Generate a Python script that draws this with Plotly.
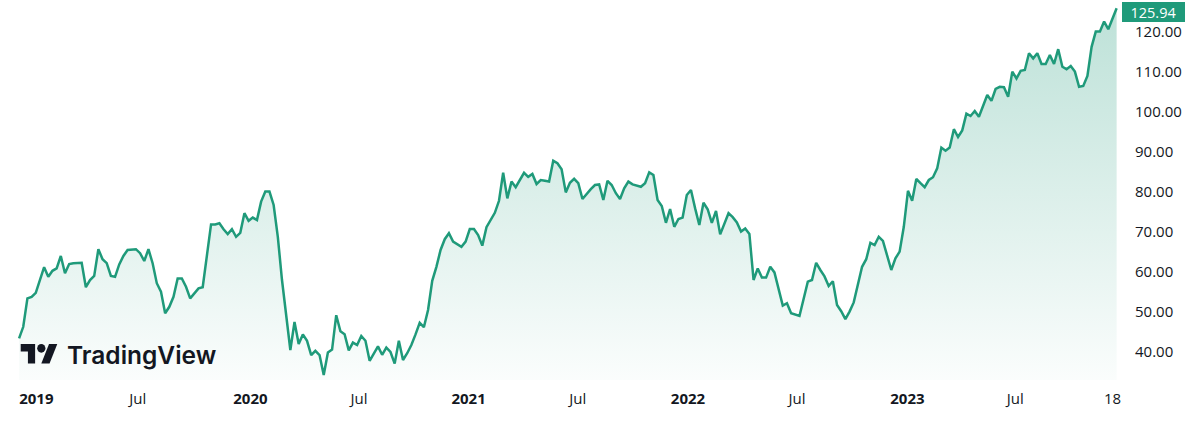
import numpy as np
import pandas as pd
import plotly.graph_objects as go

# ---------------- data (weekly closes) ----------------
start_date = "2018-12-03"
weeks = [
    0, 1, 2, 3, 4, 6, 7, 8, 9, 10, 11, 12, 13, 15, 16, 17, 18, 19, 20, 21, 22, 23, 24, 25, 26,
    28, 29, 30, 31, 32, 33, 34, 35, 36, 37, 38, 39, 40, 41, 42, 43, 44,
    46, 47, 48, 49, 50, 51, 52, 53, 54, 55, 56, 57, 58, 59, 60, 61, 62, 63, 64, 65, 66, 67, 68,
    69, 70, 71, 72, 73, 74, 75, 76, 77, 78, 79, 80, 81, 82, 83, 84, 85, 86, 87, 88, 89, 90, 91,
    92, 93, 94, 95, 96, 97, 98, 99, 100, 101, 102, 103, 104, 106, 107, 108, 109, 110, 111, 112,
    113, 114, 115, 116, 117, 118, 119, 120, 121, 122, 123, 124, 125, 126, 127, 128, 129, 130,
    131, 132, 133, 134, 135, 137, 138, 139, 140, 141, 142, 143, 144, 145, 146, 147, 149, 150,
    151, 152, 153, 154, 155, 156, 157, 158, 159, 160, 161, 162, 163, 164, 165, 166, 167, 168,
    169, 170, 171, 172, 173, 174, 175, 176, 177, 178, 179, 180, 181, 182, 183, 184, 185, 187,
    188, 189, 190, 191, 192, 193, 194, 195, 196, 197, 198, 199, 200, 201, 202, 203, 204, 205,
    206, 207, 208, 209, 210, 211, 212, 213, 214, 215, 216, 217, 218, 219, 220, 221, 222, 223,
    224, 225, 226, 227, 228, 229, 230, 232, 233, 234, 235, 236, 237, 238, 239, 240, 241, 242,
    243, 244, 245, 246, 247, 248, 249, 250, 251, 252, 253, 254, 255, 256, 257, 258, 259, 260,
    261, 262, 263,
]
prices = [
    43.4, 46.3, 53.4, 53.8, 54.8, 61.2, 58.8, 60.3, 60.9, 64.0, 59.7, 62.0, 62.2, 62.3, 56.2,
    58.0, 59.0, 65.7, 63.2, 62.2, 59.0, 58.8, 61.9, 64.0, 65.5,
    65.7, 64.7, 62.75, 65.7, 62.2, 57.2, 55.1, 49.7, 51.3, 53.8, 58.4, 58.4, 56.3, 53.4, 54.7,
    55.9, 56.2,
    71.9, 71.9, 72.2, 70.7, 69.5, 70.7, 68.8, 69.8, 74.7, 72.8, 73.6, 73.0, 77.6, 80.1, 80.1,
    76.75, 68.8, 58.0, 48.8, 40.5, 47.5, 42.0, 44.4,
    42.8, 39.2, 40.3, 39.25, 34.25, 39.9, 40.6, 49.2, 45.2, 44.45, 40.4, 42.35, 41.75, 44.0,
    42.8, 37.8, 39.7, 41.4, 39.3, 41.1, 40.0, 37.1, 42.8,
    38.0, 39.7, 41.75, 44.4, 47.3, 46.2, 50.5, 57.8, 61.3, 65.5, 68.2, 69.7, 67.6, 66.3, 67.6,
    70.75, 70.75, 69.25, 66.6, 71.2,
    73.0, 74.8, 77.8, 84.8, 78.4, 82.6, 81.2, 83.0, 84.8, 83.8, 84.5, 82.0, 83.0, 82.8, 82.6,
    87.8, 87.2, 85.7,
    79.9, 82.3, 83.3, 82.2, 78.25, 80.7, 81.75, 81.9, 78.0, 82.8, 81.75, 79.7, 78.25, 80.9,
    82.6, 81.9, 81.3, 82.2,
    84.9, 84.25, 78.0, 76.5, 72.3, 75.75, 71.3, 73.25, 73.6, 79.25, 80.5, 75.9, 71.75, 77.3,
    75.7, 72.3, 75.25, 69.4,
    72.2, 74.7, 73.7, 72.4, 70.1, 70.9, 69.5, 58.0, 60.9, 58.6, 58.6, 61.3, 59.9, 55.75, 51.6,
    52.2, 49.7, 49.0,
    53.2, 57.6, 58.0, 62.3, 60.5, 58.9, 56.5, 57.7, 51.75, 50.2, 48.2, 50.1, 52.4, 57.2, 61.3,
    63.2, 67.3, 66.75,
    68.8, 67.8, 63.8, 60.5, 63.4, 65.1, 71.3, 80.3, 77.8, 83.25, 82.2, 81.2, 83.0, 83.7, 85.9,
    91.1, 90.3, 91.1,
    95.7, 93.75, 95.4, 99.6, 99.0, 100.25, 98.8, 104.25, 102.8, 105.75, 106.3, 106.2, 103.8,
    110.1, 108.4, 110.3, 110.5, 114.7,
    113.4, 114.7, 112.0, 112.0, 114.25, 112.0, 115.7, 111.3, 110.7, 111.5, 110.1, 106.3, 106.5,
    109.0, 116.3, 120.1, 120.1, 122.6,
    120.7, 123.4, 125.94,
]
last_price_label = "125.94"

x_tick_dates = ["2019-01-01", "2019-06-20", "2019-12-26", "2020-06-25", "2020-12-26",
                "2021-06-27", "2021-12-29", "2022-06-30", "2023-01-01", "2023-07-01",
                "2023-12-11"]
x_tick_text = ["<b>2019</b>", "Jul", "<b>2020</b>", "Jul", "<b>2021</b>", "Jul",
               "<b>2022</b>", "Jul", "<b>2023</b>", "Jul", "18"]
y_tick_vals = [40, 50, 60, 70, 80, 90, 100, 110, 120]
y_tick_text = [f"{v:.2f}" for v in y_tick_vals]

# ---------------- styling ----------------
GREEN = "#1f9a7a"
TEXT = "#131722"
FONT = "Open Sans"
W, H = 1200, 436
ML, MR, MT, MB = 0, 78, 0, 56
PW, PH = W - ML - MR, H - MT - MB

dates = pd.Timestamp(start_date) + pd.to_timedelta(np.array(weeks) * 7, unit="D")

fig = go.Figure()
fig.add_trace(go.Scatter(
    x=dates, y=prices, mode="lines",
    line=dict(color=GREEN, width=2.5),
    fill="tozeroy",
    fillgradient=dict(type="vertical",
                      colorscale=[[0, "rgba(31,154,122,0.02)"], [1, "rgba(31,154,122,0.30)"]],
                      start=33, stop=128),
    hoverinfo="skip",
))

def fx(px):
    return px / PW

def fy(py):
    return 1 - py / PH

# TradingView logo mark (from its 36x28 svg), placed at bottom-left
sx, sy, ox, oy = 1.03, 1.08, 20.7, 344.0
def pt(X, Y):
    return f"{fx(ox + X * sx):.5f},{fy(oy + (Y - 4) * sy):.5f}"
def poly(points):
    return "M" + " L".join(pt(X, Y) for X, Y in points) + " Z"

shapes = [
    dict(type="path", xref="paper", yref="paper",
         path=poly([(0, 4), (14, 4), (14, 22), (7, 22), (7, 11), (0, 11)]),
         fillcolor=TEXT, line=dict(width=0)),
    dict(type="path", xref="paper", yref="paper",
         path=poly([(20, 22), (27.5, 4), (35.5, 4), (28, 22)]),
         fillcolor=TEXT, line=dict(width=0)),
    dict(type="circle", xref="paper", yref="paper",
         x0=fx(ox + 16 * sx), x1=fx(ox + 24 * sx),
         y0=fy(oy + 8 * sy), y1=fy(oy + 0 * sy),
         fillcolor=TEXT, line=dict(width=0)),
]

annotations = [
    dict(text="TradingView", xref="paper", yref="paper", x=fx(65), y=fy(355),
         xanchor="left", yanchor="middle", showarrow=False,
         font=dict(family="Inter", size=24.5, color=TEXT, weight=600)),
    dict(text=last_price_label, xref="paper", yref="paper", x=1.0, y=fy(2),
         xanchor="left", yanchor="top", showarrow=False,
         width=57, height=14, borderpad=3, borderwidth=0, bgcolor=GREEN, align="center",
         font=dict(family=FONT, size=14.5, color="white")),
]

fig.update_layout(
    width=W, height=H,
    margin=dict(l=ML, r=MR, t=MT, b=MB),
    paper_bgcolor="white", plot_bgcolor="white",
    showlegend=False,
    font=dict(family=FONT, color=TEXT, size=15),
    shapes=shapes, annotations=annotations,
    xaxis=dict(type="date", range=["2018-11-01", "2023-12-27"],
               showgrid=False, zeroline=False, showline=False,
               tickvals=x_tick_dates, ticktext=x_tick_text, ticks="",
               ticklabelstandoff=8, tickfont=dict(size=15, color=TEXT)),
    yaxis=dict(side="right", range=[33, 128], showgrid=False, zeroline=False,
               showline=False, tickvals=y_tick_vals, ticktext=y_tick_text, ticks="",
               ticklabelstandoff=12, tickfont=dict(size=15, color=TEXT)),
)

fig.write_html(
    "out.html",
    config={"displayModeBar": False},
    post_script="document.body.style.margin='0';document.body.style.overflow='hidden';",
)
